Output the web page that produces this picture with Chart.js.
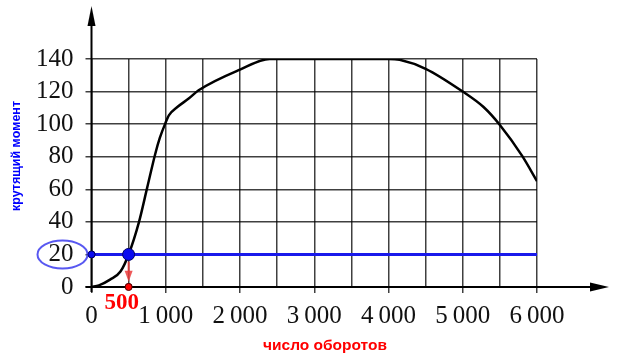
<!DOCTYPE html>
<html>
<head>
<meta charset="utf-8">
<script src="https://cdn.jsdelivr.net/npm/chart.js@4"></script>
<style>
  body { margin: 0; background: #fff; }
  #wrap { width: 619px; height: 364px; }
</style>
</head>
<body>
<div id="wrap"><canvas id="torque_chart" width="619" height="364"></canvas></div>
<script>
// engine speed (rpm) and torque
var rpm    = [0, 100, 250, 390, 500, 640, 750, 860, 920,  990, 1044,  1156,  1309,  1443,  2000,  2400, 3000, 3500, 4000, 4150,  4500, 5000, 5280,  5500, 5800, 6000];
var torque = [0, 1,   4.5, 9.5, 20,  40,  61,  82,  91.5, 100, 105.5, 110.5, 115.7, 120.8, 133.5, 140,  140,  140,  140,  139.5, 134,  120,  110.5, 99.5, 80.5, 65];

var levelY = 20;      // horizontal level
var levelX = 500;     // where the level meets the curve
var xTicks = [0, 1000, 2000, 3000, 4000, 5000, 6000];
var yTicks = [0, 20, 40, 60, 80, 100, 120, 140];
var xTitle = "число оборотов";
var yTitle = "крутящий момент";

var curve = [];
for (var i in rpm) {
  curve.push({x: rpm[i], y: torque[i]});
}

function fmt(v) {
  // 1000 -> "1 000" with a thin space
  if (v >= 1000) return Math.floor(v / 1000) + "\u2009" + String(v % 1000).padStart(3, "0");
  return String(v);
}

var extras = {
  id: 'extras',
  afterDraw: function(chart) {
    var c = chart.ctx;
    var xs = chart.scales.x, ys = chart.scales.y;
    var x0 = xs.getPixelForValue(0), y0 = ys.getPixelForValue(0);
    c.save();

    // axis arrows
    c.fillStyle = '#000';
    c.strokeStyle = '#000';
    c.lineWidth = 2;
    c.beginPath();
    c.moveTo(x0 - 6, y0); c.lineTo(592, y0);
    c.moveTo(x0, y0 + 5); c.lineTo(x0, 24);
    c.stroke();
    c.beginPath();
    c.moveTo(609, y0); c.lineTo(590, y0 - 4.5); c.lineTo(590, y0 + 4.5); c.closePath();
    c.fill();
    c.beginPath();
    c.moveTo(x0, 6); c.lineTo(x0 - 4, 26); c.lineTo(x0 + 4, 26); c.closePath();
    c.fill();

    // ellipse round the "20" label
    var ly = ys.getPixelForValue(levelY);
    c.strokeStyle = 'rgba(70,70,240,0.9)';
    c.lineWidth = 2;
    c.beginPath();
    c.ellipse(x0 - 29, ly, 25, 14, 0, 0, Math.PI * 2);
    c.stroke();

    // red arrow down to the x axis
    var ax = xs.getPixelForValue(levelX);
    var top = ys.getPixelForValue(15.5), tip = ys.getPixelForValue(3.2);
    c.strokeStyle = 'rgba(235,60,60,0.85)';
    c.fillStyle = 'rgba(235,60,60,0.85)';
    c.lineWidth = 2;
    c.beginPath();
    c.moveTo(ax, top); c.lineTo(ax, tip - 9);
    c.stroke();
    c.beginPath();
    c.moveTo(ax, tip); c.lineTo(ax - 4, tip - 11); c.lineTo(ax + 4, tip - 11); c.closePath();
    c.fill();
    c.restore();

    // dots go back on top of the axes and arrow
    chart.getDatasetMeta(3).controller.draw();
    chart.getDatasetMeta(4).controller.draw();

    c.save();
    c.fillStyle = '#ff0000';
    c.font = 'bold 23px "Liberation Serif"';
    c.textAlign = 'center';
    c.textBaseline = 'alphabetic';
    c.fillText(String(levelX), ax - 7, 309);

    // axis titles
    c.font = 'bold 15.5px "Liberation Sans"';
    c.textBaseline = 'middle';
    c.fillText(xTitle, 325, 346);
    c.fillStyle = '#0000ff';
    c.font = 'bold 12.5px "Liberation Sans"';
    c.translate(17, 156);
    c.rotate(-Math.PI / 2);
    c.fillText(yTitle, 0, 0);
    c.restore();
  }
};

var ctx = document.getElementById('torque_chart');

var chart = new Chart(ctx, {
  type: 'scatter',
  data: {
    datasets: [
      {
        label: 'level',
        data: [{x: 0, y: levelY}, {x: 6000, y: levelY}],
        showLine: true,
        borderColor: 'rgb(25,25,235)',
        borderWidth: 3,
        pointRadius: 0,
        order: 3
      },
      {
        label: 'torque',
        data: curve,
        showLine: true,
        borderColor: '#000',
        borderWidth: 2.5,
        cubicInterpolationMode: 'monotone',
        pointRadius: 0,
        order: 2
      },
      {
        label: 'meet',
        data: [{x: levelX, y: levelY}],
        backgroundColor: 'rgb(10,10,240)',
        borderColor: '#000066',
        borderWidth: 1,
        pointRadius: 6,
        order: 1
      },
      {
        label: 'start',
        data: [{x: 0, y: levelY}],
        backgroundColor: 'rgb(10,10,240)',
        borderColor: '#000066',
        borderWidth: 1,
        pointRadius: 3.5,
        order: 1
      },
      {
        label: 'foot',
        data: [{x: levelX, y: 0}],
        backgroundColor: '#ff0000',
        borderColor: '#550000',
        borderWidth: 1,
        pointRadius: 3.5,
        order: 0
      }
    ]
  },
  options: {
    responsive: false,
    animation: false,
    events: [],
    layout: { padding: { top: 59, right: 82, bottom: 0, left: 0 } },
    plugins: {
      legend: { display: false },
      tooltip: { enabled: false }
    },
    scales: {
      x: {
        type: 'linear',
        min: 0,
        max: 6000,
        afterFit: function(s) { s.height = 77; },
        afterBuildTicks: function(s) {
          var t = [];
          for (var v = 0; v <= 6000; v += 500) t.push({value: v});
          s.ticks = t;
        },
        ticks: {
          autoSkip: false,
          maxRotation: 0,
          padding: 8,
          color: '#111',
          font: { family: '"Liberation Serif"', size: 25 },
          callback: function(v) { return xTicks.indexOf(v) >= 0 ? fmt(v) : ''; }
        },
        grid: {
          color: 'rgba(0,0,0,0.75)',
          lineWidth: 1.5,
          tickLength: 6,
          tickColor: function(c) { return c.tick && c.tick.value % 1000 === 0 ? 'rgba(0,0,0,0.75)' : 'rgba(0,0,0,0)'; }
        },
        border: { display: false }
      },
      y: {
        min: 0,
        max: 140,
        afterFit: function(s) { s.width = 91.5; },
        afterBuildTicks: function(s) {
          s.ticks = yTicks.map(function(v) { return {value: v}; });
        },
        ticks: {
          autoSkip: false,
          padding: 12,
          color: '#111',
          font: { family: '"Liberation Serif"', size: 25 },
          callback: function(v) { return String(v); }
        },
        grid: {
          color: 'rgba(0,0,0,0.75)',
          lineWidth: 1.5,
          tickLength: 6
        },
        border: { display: false }
      }
    }
  },
  plugins: [extras]
});
</script>
</body>
</html>
